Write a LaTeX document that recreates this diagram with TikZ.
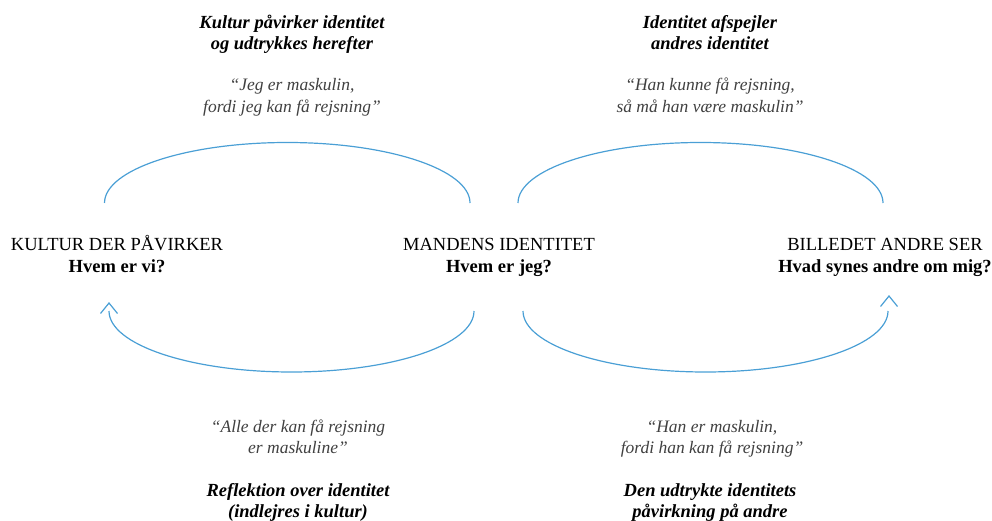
\documentclass[tikz,border=0pt]{standalone}
\usepackage{fontspec}
\setmainfont{Liberation Serif}
\definecolor{flowblue}{HTML}{4A9FD5}
\definecolor{quotegray}{HTML}{404040}
\begin{document}
\begin{tikzpicture}[x=1pt,y=1pt,
  every node/.style={inner sep=0pt, outer sep=0pt, align=center},
  stage/.style={font=\fontsize{18.5}{21.5}\selectfont},
  heading/.style={font=\fontsize{18.5}{21.5}\selectfont\bfseries\itshape},
  saying/.style={font=\fontsize{17.5}{21.5}\selectfont\itshape, text=quotegray},
  flow/.style={draw=flowblue, line width=1.2pt},
  chevron/.style={draw=flowblue, line width=1.2pt, line join=miter}]
\useasboundingbox (0,0) rectangle (992,-521);

% the three stages
\node[stage] (kultur)   at (117,-257.2) {\strut KULTUR DER PÅVIRKER\\\strut\textbf{Hvem er vi?}};
\node[stage] (mand)     at (499,-257.2) {\strut MANDENS IDENTITET\\\strut\textbf{Hvem er jeg?}};
\node[stage] (billede)  at (885,-257.2) {\strut BILLEDET ANDRE SER\\\strut\textbf{Hvad synes andre om mig?}};

% headings and sayings along the loops
\node[heading] (h1) at (292,-34.5) {\strut Kultur påvirker identitet\\\strut og udtrykkes herefter};
\node[saying]  (q1) at (292,-97.2) {\strut “Jeg er maskulin,\\\strut fordi jeg kan få rejsning”};
\node[heading] (h2) at (710,-34.5) {\strut Identitet afspejler\\\strut andres identitet};
\node[saying]  (q2) at (710,-97.2) {\strut “Han kunne få rejsning,\\\strut så må han være maskulin”};
\node[saying]  (q3) at (298,-438.7) {\strut “Alle der kan få rejsning\\\strut er maskuline”};
\node[heading] (h3) at (298,-502.5) {\strut Reflektion over identitet\\\strut (indlejres i kultur)};
\node[saying]  (q4) at (712,-438.7) {\strut “Han er maskulin,\\\strut fordi han kan få rejsning”};
\node[heading] (h4) at (710,-502.5) {\strut Den udtrykte identitets\\\strut påvirkning på andre};

% loop end points
\coordinate (a1) at (104.5,-203);
\coordinate (a2) at (518,-203);
\coordinate (b1) at (474,-311);
\coordinate (b2) at (523,-311);
\coordinate (tipL) at (109,-303);
\coordinate (tipR) at (889,-296);

% upper loops
\draw[flow] (a1) arc[start angle=180, end angle=0, x radius=182.75, y radius=60.5];
\draw[flow] (a2) arc[start angle=180, end angle=0, x radius=182.5, y radius=60.5];
% lower loops
\draw[flow] (b1) arc[start angle=0, end angle=-180, x radius=182.5, y radius=61];
\draw[flow] (b2) arc[start angle=180, end angle=360, x radius=182.5, y radius=61];
% open arrow heads
\draw[chevron] ([shift={(-8.5,-10.5)}]tipL) -- (tipL) -- ([shift={(8.5,-10.5)}]tipL);
\draw[chevron] ([shift={(-8.5,-10.5)}]tipR) -- (tipR) -- ([shift={(8.5,-10.5)}]tipR);
\end{tikzpicture}
\end{document}
